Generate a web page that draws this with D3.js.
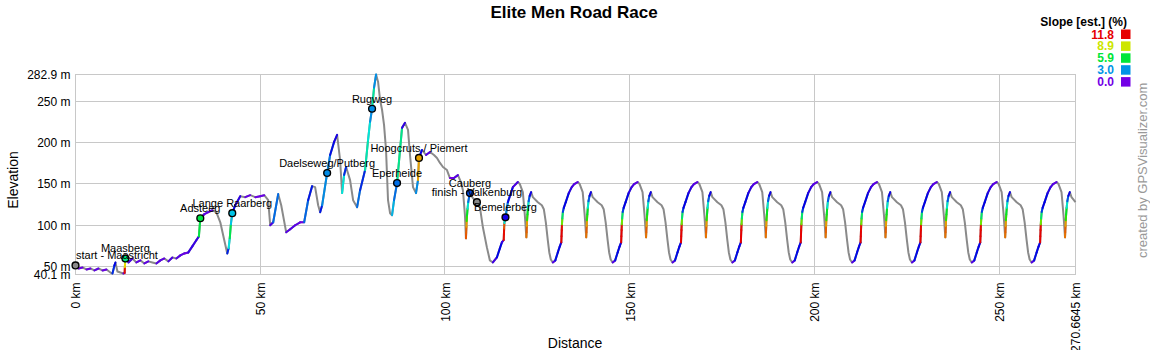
<!DOCTYPE html>
<html><head><meta charset="utf-8">
<script src="https://cdn.jsdelivr.net/npm/d3@7"></script>
<style>body{margin:0;background:#fff}svg{display:block;font-family:"Liberation Sans",Arial,sans-serif}</style>
</head><body><svg id="chart" width="1150" height="350"></svg>
<script>
// ---- data ----
const routeKm = [
0.00,0.81,1.89,2.97,4.05,5.14,6.22,7.30,8.38,9.46,
10.00,10.54,10.81,11.35,12.16,12.97,13.30,13.36,13.43,13.51,
14.32,15.41,16.49,17.57,18.65,19.73,20.81,21.89,22.97,24.05,
25.14,26.22,27.30,28.38,29.46,30.54,31.62,32.70,33.40,33.78,
34.86,35.95,37.03,38.11,39.19,40.27,41.08,41.45,41.75,42.05,
42.43,43.24,44.59,45.95,47.30,48.65,50.00,51.08,52.16,52.70,
53.51,54.86,55.68,57.03,58.11,59.46,60.81,61.89,62.97,64.05,
64.86,65.68,66.22,66.76,68.11,68.92,70.00,70.81,71.62,72.16,
72.70,73.24,74.32,75.14,76.22,77.03,78.38,79.19,79.73,80.27,
80.81,81.35,81.89,82.43,82.97,83.51,84.05,84.59,85.14,85.68,
86.22,87.03,87.84,88.38,89.19,90.00,90.54,91.35,92.16,92.70,
92.97,93.78,94.86,95.95,97.03,97.84,98.65,99.46,100.54,101.35,
102.43,103.51,104.32,104.86,105.41,105.68,105.74,105.81,105.88,105.98,
106.11,106.30,106.55,106.76,107.57,108.65,109.46,110.27,111.35,112.16,
112.97,114.05,114.86,115.41,115.90,115.96,116.02,116.08,116.20,116.38,
117.03,118.38,
119.73,120.27,121.08,121.62,122.03,122.09,122.16,122.23,122.33,122.46,122.65,122.93,123.33,123.78,125.14,126.22,126.76,127.30,127.84,128.24,128.65,129.19,129.87,130.54,131.08,131.49,131.55,131.61,131.67,131.76,131.91,132.16,132.70,133.51,134.32,135.00,
135.93,136.47,137.28,137.82,138.23,138.29,138.36,138.43,138.53,138.66,138.85,139.13,139.53,139.98,141.34,142.42,142.96,143.50,144.04,144.44,144.85,145.39,146.07,146.74,147.28,147.69,147.75,147.81,147.87,147.96,148.11,148.36,148.90,149.71,150.52,151.20,
152.13,152.67,153.48,154.02,154.43,154.49,154.56,154.63,154.73,154.86,155.05,155.33,155.73,156.18,157.54,158.62,159.16,159.70,160.24,160.64,161.05,161.59,162.27,162.94,163.48,163.89,163.95,164.01,164.07,164.16,164.31,164.56,165.10,165.91,166.72,167.40,
168.33,168.87,169.68,170.22,170.63,170.69,170.76,170.83,170.93,171.06,171.25,171.53,171.93,172.38,173.74,174.82,175.36,175.90,176.44,176.84,177.25,177.79,178.47,179.14,179.68,180.09,180.15,180.21,180.27,180.36,180.51,180.76,181.30,182.11,182.92,183.60,
184.53,185.07,185.88,186.42,186.83,186.89,186.96,187.03,187.13,187.26,187.45,187.73,188.13,188.58,189.94,191.02,191.56,192.10,192.64,193.04,193.45,193.99,194.67,195.34,195.88,196.29,196.35,196.41,196.47,196.56,196.71,196.96,197.50,198.31,199.12,199.80,
200.73,201.27,202.08,202.62,203.03,203.09,203.16,203.23,203.33,203.46,203.65,203.93,204.33,204.78,206.14,207.22,207.76,208.30,208.84,209.24,209.65,210.19,210.87,211.54,212.08,212.49,212.55,212.61,212.67,212.76,212.91,213.16,213.70,214.51,215.32,216.00,
216.93,217.47,218.28,218.82,219.23,219.29,219.36,219.43,219.53,219.66,219.85,220.13,220.53,220.98,222.34,223.42,223.96,224.50,225.04,225.44,225.85,226.39,227.07,227.74,228.28,228.69,228.75,228.81,228.87,228.96,229.11,229.36,229.90,230.71,231.52,232.20,
233.13,233.67,234.48,235.02,235.43,235.49,235.56,235.63,235.73,235.86,236.05,236.33,236.73,237.18,238.54,239.62,240.16,240.70,241.24,241.64,242.05,242.59,243.27,243.94,244.48,244.89,244.95,245.01,245.07,245.16,245.31,245.56,246.10,246.91,247.72,248.40,
249.33,249.87,250.68,251.22,251.63,251.69,251.76,251.83,251.93,252.06,252.25,252.53,252.93,253.38,254.74,255.82,256.36,256.90,257.44,257.84,258.25,258.79,259.47,260.14,260.68,261.09,261.15,261.21,261.27,261.36,261.51,261.76,262.30,263.11,263.92,264.60,
265.53,266.07,266.88,267.42,267.83,267.89,267.96,268.03,268.13,268.26,268.45,268.73,269.13,269.58,270.66
];
const routeElev = [
51.1,47.4,48.6,46.2,47.4,45.0,47.4,45.0,46.2,42.5,
41.3,51.1,54.7,43.8,42.5,41.3,42.0,49.0,55.5,59.6,
54.7,59.6,54.7,57.2,53.5,56.0,54.7,53.5,57.2,59.6,
56.0,60.8,59.6,63.3,65.7,66.9,74.2,81.6,86.4,108.4,
113.3,115.7,118.1,115.7,103.5,81.6,65.7,72.0,84.0,101.0,
114.5,124.2,135.2,134.0,136.4,134.0,135.2,136.4,130.3,99.9,
103.5,137.7,124.2,91.3,95.0,99.9,103.5,103.5,130.3,147.4,
146.2,124.2,115.7,124.2,163.3,185.2,201.1,209.6,179.1,138.9,
160.8,170.6,154.7,130.3,121.8,142.5,166.9,203.5,225.5,241.3,
266.9,282.8,274.2,252.3,240.1,221.8,191.3,130.3,114.5,112.1,
130.3,151.1,191.3,218.1,224.2,215.7,185.2,146.2,138.9,154.7,
181.6,191.3,185.2,188.9,185.2,181.6,175.5,170.6,166.9,157.2,
157.2,160.8,152.3,142.5,112.1,84.0,90.5,98,105,112,
120,128,134.5,138.9,132.8,127.9,121.8,97.4,73.0,57.2,
54.7,60.8,71.8,79.1,82.0,89.0,96.0,102.5,107.5,109.5,
127.9,146.2,
152.3,149.9,140.1,112.1,85.2,91.5,99,106,113,121,129,135.5,140.1,134.0,127.9,124.2,119.4,103.5,81.6,66.9,58.4,54.7,57.2,66.9,74.2,79.1,86.5,94,101,108,116,121,128,138.9,146.2,149.9,
152.3,149.9,140.1,112.1,85.2,91.5,99,106,113,121,129,135.5,140.1,134.0,127.9,124.2,119.4,103.5,81.6,66.9,58.4,54.7,57.2,66.9,74.2,79.1,86.5,94,101,108,116,121,128,138.9,146.2,149.9,
152.3,149.9,140.1,112.1,85.2,91.5,99,106,113,121,129,135.5,140.1,134.0,127.9,124.2,119.4,103.5,81.6,66.9,58.4,54.7,57.2,66.9,74.2,79.1,86.5,94,101,108,116,121,128,138.9,146.2,149.9,
152.3,149.9,140.1,112.1,85.2,91.5,99,106,113,121,129,135.5,140.1,134.0,127.9,124.2,119.4,103.5,81.6,66.9,58.4,54.7,57.2,66.9,74.2,79.1,86.5,94,101,108,116,121,128,138.9,146.2,149.9,
152.3,149.9,140.1,112.1,85.2,91.5,99,106,113,121,129,135.5,140.1,134.0,127.9,124.2,119.4,103.5,81.6,66.9,58.4,54.7,57.2,66.9,74.2,79.1,86.5,94,101,108,116,121,128,138.9,146.2,149.9,
152.3,149.9,140.1,112.1,85.2,91.5,99,106,113,121,129,135.5,140.1,134.0,127.9,124.2,119.4,103.5,81.6,66.9,58.4,54.7,57.2,66.9,74.2,79.1,86.5,94,101,108,116,121,128,138.9,146.2,149.9,
152.3,149.9,140.1,112.1,85.2,91.5,99,106,113,121,129,135.5,140.1,134.0,127.9,124.2,119.4,103.5,81.6,66.9,58.4,54.7,57.2,66.9,74.2,79.1,86.5,94,101,108,116,121,128,138.9,146.2,149.9,
152.3,149.9,140.1,112.1,85.2,91.5,99,106,113,121,129,135.5,140.1,134.0,127.9,124.2,119.4,103.5,81.6,66.9,58.4,54.7,57.2,66.9,74.2,79.1,86.5,94,101,108,116,121,128,138.9,146.2,149.9,
152.3,149.9,140.1,112.1,85.2,91.5,99,106,113,121,129,135.5,140.1,134.0,127.9,124.2,119.4,103.5,81.6,66.9,58.4,54.7,57.2,66.9,74.2,79.1,86.5,94,101,108,116,121,128,138.9,146.2,149.9,
152.3,149.9,140.1,112.1,85.2,91.5,99,106,113,121,129,135.5,140.1,134.0,128.0
];
const waypointNames = ["start - Maastricht","Maasberg","Adsteeg","Lange Raarberg","Daelseweg/Putberg","Rugweg","Eperheide","Hoogcruts / Piemert","Cauberg","finish - Valkenburg","Bemelerberg"];
const waypointKm   = [0, 13.51, 33.78, 42.43, 68.11, 80.27, 87.03, 92.97, 106.76, 108.65, 116.38];
const waypointElev = [51.1, 59.6, 108.4, 114.5, 163.3, 241.3, 151.1, 181.6, 138.9, 127.9, 109.5];
const elevTicks = [40.1, 50, 100, 150, 200, 250, 282.9];
const distTicks = [0, 50, 100, 150, 200, 250, 270.6645];
const slopeLegend = [11.8, 8.9, 5.9, 3.0, 0.0];
const titleText = "Elite Men Road Race";

// ---- drawing ----
const svg = d3.select("#chart");
const W = 1150;
const x = d3.scaleLinear().domain([0, 270.6645]).range([75.5, 1075.5]);
const y = d3.scaleLinear().domain([40.1, 282.9]).range([274.5, 74.5]);
const hue = d3.scaleLinear().domain([0, 11.8]).range([270, 0]).clamp(true);
const slopeColor = s => s < 0 ? "#8a8a8a" : d3.hsl(hue(s), 1, 0.45).formatHex();
const crisp = v => Math.round(v - 0.5) + 0.5;

svg.append("rect").attr("width", W).attr("height", 350).attr("fill", "#fff");

// grid
const grid = svg.append("g").attr("stroke", "#c8c8c8").attr("stroke-width", 1);
grid.selectAll(".gy").data(elevTicks.slice(1, -1)).join("line")
  .attr("x1", 75.5).attr("x2", 1075.5).attr("y1", d => crisp(y(d))).attr("y2", d => crisp(y(d)));
grid.selectAll(".gx").data(distTicks.slice(1, -1)).join("line")
  .attr("y1", 74.5).attr("y2", 274.5).attr("x1", d => crisp(x(d))).attr("x2", d => crisp(x(d)));
svg.append("rect").attr("x", 75.5).attr("y", 74.5).attr("width", 1000).attr("height", 200)
  .attr("fill", "none").attr("stroke", "#c8c8c8");

// axes
const ya = svg.append("g").attr("transform", "translate(75.5,0)")
  .call(d3.axisLeft(y).tickValues(elevTicks).tickFormat(d => d + " m").tickSize(0).tickPadding(5));
ya.select(".domain").remove();
ya.selectAll("text").attr("font-size", 12).attr("fill", "#000").attr("font-family", "Liberation Sans, Arial, sans-serif");

const xa = svg.append("g").attr("transform", "translate(0,274.5)")
  .call(d3.axisBottom(x).tickValues(distTicks).tickFormat(d => d + " km").tickSize(0));
xa.select(".domain").remove();
xa.selectAll("text").attr("font-size", 12).attr("fill", "#000").attr("font-family", "Liberation Sans, Arial, sans-serif")
  .attr("transform", "rotate(-90)").attr("text-anchor", "end").attr("x", -8).attr("y", 0).attr("dy", "0.36em");

// profile
const pts = routeKm.map((k, i) => ({km: k, elev: routeElev[i]}));
const segs = d3.pairs(pts).map(([a, b]) => ({a, b, slope: (b.elev - a.elev) / ((b.km - a.km) * 1000) * 100}));
svg.append("path").datum(pts)
  .attr("d", d3.line().x(d => x(d.km)).y(d => y(d.elev)))
  .attr("fill", "none").attr("stroke", "#8a8a8a").attr("stroke-width", 2).attr("stroke-linejoin", "round");
svg.append("g").selectAll("line").data(segs.filter(s => s.slope >= 0)).join("line")
  .attr("x1", d => x(d.a.km)).attr("y1", d => y(d.a.elev))
  .attr("x2", d => x(d.b.km)).attr("y2", d => y(d.b.elev))
  .attr("stroke", d => slopeColor(d.slope)).attr("stroke-width", 2).attr("stroke-linecap", "round");

// waypoints
const wps = waypointNames.map((n, i) => {
  const idx = d3.bisectLeft(routeKm, waypointKm[i]);
  const seg = segs[Math.max(0, idx - 1)];
  return {name: n, km: waypointKm[i], elev: waypointElev[i], color: slopeColor(seg.slope)};
});
const wg = svg.append("g");
wg.selectAll("circle").data(wps).join("circle")
  .attr("cx", d => x(d.km)).attr("cy", d => y(d.elev)).attr("r", 3.4)
  .attr("fill", d => d.color).attr("stroke", "#000").attr("stroke-width", 1.4);
wg.selectAll("text").data(wps).join("text")
  .attr("x", d => x(d.km)).attr("y", d => y(d.elev) - 6)
  .attr("text-anchor", "middle").attr("font-size", 11).attr("fill", "#000")
  .text(d => d.name)
  .each(function(d) {
    const w = this.getComputedTextLength();
    if (x(d.km) - w / 2 < 76) d3.select(this).attr("text-anchor", "start").attr("x", 76);
  });

// titles
svg.append("text").attr("x", 574).attr("y", 18).attr("text-anchor", "middle")
  .attr("font-size", 17).attr("font-weight", "bold").text(titleText);
svg.append("text").attr("x", 575).attr("y", 348).attr("text-anchor", "middle")
  .attr("font-size", 14).text("Distance");
svg.append("text").attr("transform", "translate(18,180) rotate(-90)").attr("text-anchor", "middle")
  .attr("font-size", 14).text("Elevation");
svg.append("text").attr("transform", "translate(1147,258) rotate(-90)").attr("text-anchor", "start")
  .attr("font-size", 13).attr("fill", "#999").text("created by GPSVisualizer.com");

// legend
const lg = svg.append("g");
lg.append("text").attr("x", 1127).attr("y", 26).attr("text-anchor", "end")
  .attr("font-size", 12).attr("font-weight", "bold").text("Slope [est.] (%)");
lg.selectAll(".lv").data(slopeLegend).join("text")
  .attr("x", 1114).attr("y", (d, i) => 38.5 + i * 11.9).attr("text-anchor", "end")
  .attr("font-size", 12).attr("font-weight", "bold").attr("fill", d => slopeColor(d))
  .text(d => d.toFixed(1));
lg.selectAll("rect").data(slopeLegend).join("rect")
  .attr("x", 1121).attr("y", (d, i) => 29.5 + i * 11.9).attr("width", 9.5).attr("height", 9.5)
  .attr("fill", d => slopeColor(d));
</script></body></html>
